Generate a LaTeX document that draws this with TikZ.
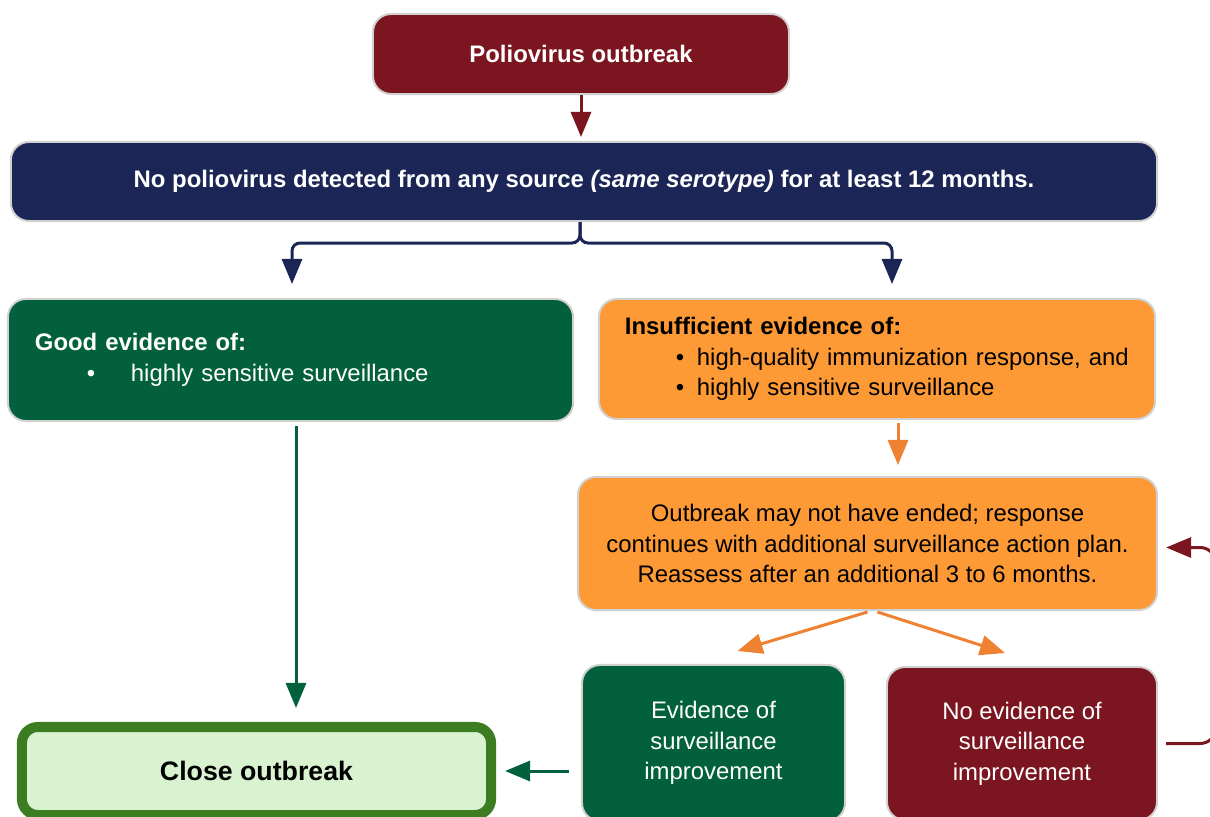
\documentclass[tikz,border=0pt]{standalone}
\usepackage{fontspec}
\setmainfont{Liberation Sans}
\usetikzlibrary{arrows.meta,calc}
\definecolor{PolioRed}{HTML}{7B1520}
\definecolor{PolioNavy}{HTML}{1B2656}
\definecolor{PolioGreen}{HTML}{03603C}
\definecolor{PolioOrange}{HTML}{FD9A35}
\definecolor{ArrowOrange}{HTML}{EE8132}
\definecolor{CloseGreen}{HTML}{3C7D22}
\definecolor{CloseFill}{HTML}{D9F2D0}
\tikzset{
  box/.style={rectangle, rounded corners=0.45cm, draw=black!18, line width=0.05cm,
    inner sep=0pt, font=\fontsize{17}{21.7}\selectfont},
  boldbox/.style={box, font=\fontsize{17}{21.7}\selectfont\bfseries},
  arr/.style={line width=0.075cm, -{Triangle[length=0.625cm,width=0.5cm]}},
}
\begin{document}
\begin{tikzpicture}[x=0.025cm, y=-0.025cm]
\useasboundingbox (0,0) rectangle (1210,816);
\clip (0,0) rectangle (1210,816);
%
\node[boldbox, fill=PolioRed, text=white, minimum width=10.4cm, minimum height=2cm] (outb) at (581,54) {Poliovirus outbreak};
\node[boldbox, fill=PolioNavy, text=white, minimum width=28.65cm, minimum height=1.975cm] (nopv) at (584,181.5)
  {No poliovirus detected from any source \textit{(same serotype)} for at least 12 months.};
%
\node[box, fill=PolioGreen, text=white, minimum height=3.05cm, inner xsep=0.675cm, text width=12.775cm, align=left] (good) at (290.5,360)
  {\textbf{Good evidence of:}\\
   \hspace*{1.3cm}\makebox[1.1cm][l]{\textbullet}highly sensitive surveillance};
\node[box, fill=PolioOrange, text=black, minimum height=3cm, inner xsep=0.65cm, text width=12.6cm, align=left] (insuf) at (877,359)
  {\textbf{Insufficient evidence of:}\\
   \hspace*{1.275cm}\makebox[0.525cm][l]{\textbullet}high-quality immunization response, and\\
   \hspace*{1.275cm}\makebox[0.525cm][l]{\textbullet}highly sensitive surveillance};
%
\node[box, fill=PolioOrange, text=black, minimum width=14.475cm, minimum height=3.325cm, align=center] (mayend) at (867.5,543.5)
  {Outbreak may not have ended; response\\continues with additional surveillance action plan.\\Reassess after an additional 3 to 6 months.};
%
\node[box, fill=PolioGreen, text=white, minimum width=6.575cm, minimum height=3.9cm, align=center] (evid) at (713.5,743)
  {Evidence of\\surveillance\\improvement};
\node[box, fill=PolioRed, text=white, minimum width=6.75cm, minimum height=3.825cm, align=center] (noev) at (1022,743.5)
  {No evidence of\\surveillance\\improvement};
\node[box, draw=CloseGreen, line width=0.25cm, rounded corners=0.4cm, fill=CloseFill, text=black,
  font=\fontsize{19}{23}\selectfont\bfseries, minimum width=11.725cm, minimum height=2.2cm] (close) at (256.5,771) {Close outbreak};
%
\draw[arr, PolioRed, shorten >=1mm] (outb.south) -- (outb.south |- nopv.north);
\draw[arr, PolioNavy, rounded corners=0.2cm] ($(nopv.south)+(-4,0)$) -- ++(0,21) -| ($(good.north)+(1.5,-14)$);
\draw[arr, PolioNavy, rounded corners=0.2cm] ($(nopv.south)+(-4,0)$) -- ++(0,21) -| ($(insuf.north)+(15,-14)$);
%
\draw[arr, ArrowOrange] ($(insuf.south)+(21,3)$) -- ($(insuf.south |- mayend.north)+(21,-11)$);
\draw[arr, ArrowOrange] ($(mayend.south)+(0,1)$) -- ($(evid.north)+(24,-13)$);
\draw[arr, ArrowOrange] ($(mayend.south)+(10,1)$) -- ($(noev.north)+(-17,-13)$);
%
\draw[arr, PolioGreen, shorten <=1mm] ($(good.south)+(5.5,0)$) -- ($(good.south |- close.north)+(5.5,-14)$);
\draw[arr, PolioGreen] ($(close.east -| evid.west)+(-12,0)$) -- ($(close.east)+(9,0)$);
%
\draw[arr, PolioRed, rounded corners=0.4cm, shorten <=2mm, shorten >=2mm] (noev.east) -- ++(58,0) |- ($(mayend.east)+(0,4)$);
\end{tikzpicture}
\end{document}
